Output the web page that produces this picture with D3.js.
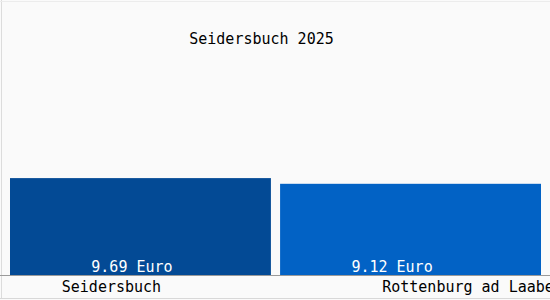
<!DOCTYPE html>
<html><head><meta charset="utf-8">
<script src="https://cdn.jsdelivr.net/npm/d3@7"></script>
<style>
html,body{margin:0;padding:0;background:#fafafa;}
svg{display:block;}
text{font-family:"DejaVu Sans Mono",monospace;font-size:15px;}
</style></head><body>
<div id="chart"></div>
<script>
const categories = ["Seidersbuch", "Rottenburg ad Laaber"];
const values = [9.69, 9.12];
const valueLabels = ["9.69 Euro", "9.12 Euro"];
const title = "Seidersbuch 2025";
const colors = ["#034a95", "#0262c5"];

const W = 550, H = 300;
const svg = d3.select("#chart").append("svg").attr("width", W).attr("height", H);
svg.append("rect").attr("x",0).attr("y",0).attr("width",W).attr("height",H).attr("fill","#fafafa");

const x = d3.scaleBand().domain(categories).range([10, 541]).paddingInner(0.034).paddingOuter(0);
const y = d3.scaleLinear().domain([0, 25.5]).range([275, 20]);

svg.selectAll("rect.bar").data(categories).enter().append("rect")
  .attr("class","bar")
  .attr("x", d => x(d))
  .attr("width", x.bandwidth())
  .attr("y", (d,i) => y(values[i]))
  .attr("height", (d,i) => y(0) - y(values[i]))
  .attr("fill", (d,i) => colors[i]);

// frame lines
svg.append("line").attr("x1",1.5).attr("x2",1.5).attr("y1",0).attr("y2",299).attr("stroke","#dcdcdc");
svg.append("line").attr("x1",0).attr("x2",W).attr("y1",1.5).attr("y2",1.5).attr("stroke","#ececec");
svg.append("line").attr("x1",0).attr("x2",W).attr("y1",298.5).attr("y2",298.5).attr("stroke","#d8d8d8");
svg.append("line").attr("x1",0).attr("x2",W).attr("y1",275.5).attr("y2",275.5).attr("stroke","#9a9a9a");

const valDx = [-8.5, -18.5];
svg.selectAll("text.val").data(categories).enter().append("text")
  .attr("class","val")
  .attr("x", (d,i) => x(d) + x.bandwidth()/2 + valDx[i])
  .attr("y", 272)
  .attr("text-anchor","middle")
  .attr("fill","#ffffff")
  .text((d,i) => valueLabels[i]);

const catDx = [-29, 62];
svg.selectAll("text.cat").data(categories).enter().append("text")
  .attr("class","cat")
  .attr("x", (d,i) => x(d) + x.bandwidth()/2 + catDx[i])
  .attr("y", 292)
  .attr("text-anchor","middle")
  .attr("fill","#000")
  .text(d => d);

svg.append("text").attr("x", 261.5).attr("y", 44).attr("text-anchor","middle").attr("fill","#000").text(title);
</script></body></html>
